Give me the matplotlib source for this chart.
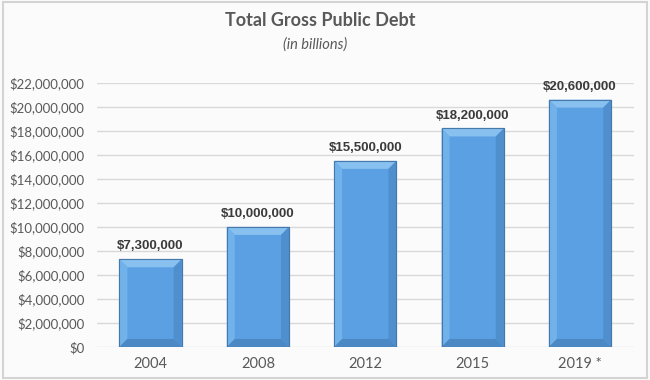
import numpy as np
import matplotlib
matplotlib.use("Agg")
from matplotlib import pyplot as plt
from matplotlib.patches import Polygon, Rectangle
from matplotlib.ticker import FuncFormatter

# Data
years = ["2004", "2008", "2012", "2015", "2019 *"]
debt = [7300000, 10000000, 15500000, 18200000, 20600000]
y_ticks = np.arange(0, 22000001, 2000000)

title = "Total Gross Public Debt"
subtitle = "(in billions)"

# Colours
face_col = "#5ba0e2"
top_col = "#88c0f0"
left_col = "#72b2ea"
right_col = "#4f8fce"
bottom_col = "#4b88c4"
edge_col = "#4679ab"
text_col = "#595959"
label_col = "#3a3a3a"
grid_col = "#d9d9d9"


def main():
    fig = plt.figure(figsize=(6.5, 3.8), dpi=100)
    fig.patch.set_facecolor("#fbfbfb")

    # outer frame
    fig.add_artist(Rectangle((0.004, 0.006), 0.992, 0.988, transform=fig.transFigure,
                             fill=False, edgecolor="#d4d4d4", linewidth=1.5))

    ax = fig.add_axes([0.149, 0.087, 0.826, 0.695])
    ax.set_facecolor("none")

    x = np.arange(len(years))
    bar_w = 0.58
    bars = ax.bar(x, debt, width=bar_w, color=face_col, edgecolor=edge_col,
                  linewidth=0.8, zorder=3)

    ax.set_xlim(-0.5, len(years) - 0.5)
    ax.set_ylim(0, y_ticks[-1])
    ax.set_yticks(y_ticks)
    ax.yaxis.set_major_formatter(FuncFormatter(lambda v, p: f"${v:,.0f}"))
    ax.set_xticks(x)
    ax.set_xticklabels(years)

    ax.grid(axis="y", color=grid_col, linewidth=1, zorder=0)
    ax.set_axisbelow(True)
    for s in ax.spines.values():
        s.set_visible(False)
    ax.tick_params(length=0, colors=text_col)
    ax.tick_params(axis="y", pad=9, labelsize=9.5)
    ax.tick_params(axis="x", pad=7, labelsize=10.5)
    for lab in ax.get_xticklabels() + ax.get_yticklabels():
        lab.set_family(["Lato", "DejaVu Sans"])
        lab.set_color(text_col)

    # bevel size in data units (about 8 px)
    inv = ax.transData.inverted()
    p0 = inv.transform((0, 0))
    p1 = inv.transform((8, 8))
    dx = p1[0] - p0[0]
    dy = p1[1] - p0[1]

    for b in bars:
        x0 = b.get_x()
        x1 = x0 + b.get_width()
        y0 = 0
        y1 = b.get_height()
        faces = [
            ([(x0, y1), (x1, y1), (x1 - dx, y1 - dy), (x0 + dx, y1 - dy)], top_col),
            ([(x0, y0), (x0, y1), (x0 + dx, y1 - dy), (x0 + dx, y0 + dy)], left_col),
            ([(x1, y0), (x1, y1), (x1 - dx, y1 - dy), (x1 - dx, y0 + dy)], right_col),
            ([(x0, y0), (x1, y0), (x1 - dx, y0 + dy), (x0 + dx, y0 + dy)], bottom_col),
        ]
        for pts, c in faces:
            ax.add_patch(Polygon(pts, closed=True, facecolor=c, edgecolor="none", zorder=4))
        ax.add_patch(Rectangle((x0, y0), x1 - x0, y1, fill=False, edgecolor=edge_col,
                               linewidth=0.8, zorder=5))

        ax.annotate(f"${y1:,.0f}", (b.get_x() + b.get_width() / 2, y1),
                    xytext=(0, 5), textcoords="offset points", ha="center", va="bottom",
                    fontsize=9.5, fontweight="bold", color=label_col,
                    family=["Liberation Sans", "DejaVu Sans"], zorder=6)

    fig.text(0.492, 0.945, title, ha="center", va="center", fontsize=13,
             fontweight="bold", color=text_col, family=["Lato", "DejaVu Sans"])
    fig.text(0.485, 0.882, subtitle, ha="center", va="center", fontsize=10.5,
             style="italic", color=text_col, family=["Lato", "DejaVu Sans"])

    plt.savefig("out.png", dpi=100, facecolor=fig.get_facecolor())


if __name__ == "__main__":
    main()
